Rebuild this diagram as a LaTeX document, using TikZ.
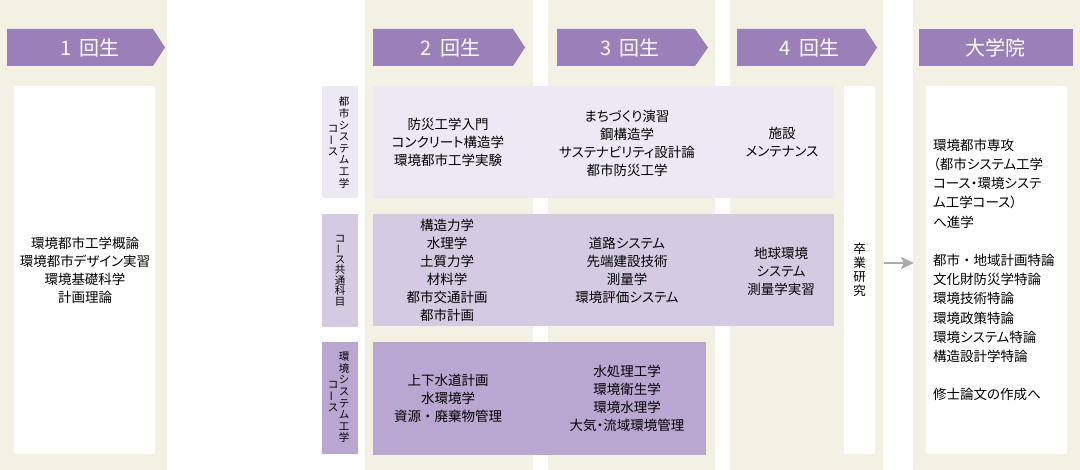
\documentclass[tikz,border=0pt]{standalone}
\usepackage{fontspec}
\setmainfont{Noto Sans CJK JP}[RawFeature=+palt]
\newfontfamily\vfont{Noto Sans CJK JP}
\usepackage{graphicx}
\usetikzlibrary{arrows.meta}
\definecolor{beige}{HTML}{F3F1E3}
\definecolor{hdrcol}{HTML}{9B7FB8}
\definecolor{bandA}{HTML}{ECE8F4}
\definecolor{bandB}{HTML}{D4CBE3}
\definecolor{bandC}{HTML}{B9A7D1}
\definecolor{arrowgray}{HTML}{ABABAB}
\newcommand{\vbarmark}{\raisebox{0.12em}{\smash{\rotatebox[origin=c]{90}{ー}}}}
\newcommand{\wdot}{{\vfont ・}}
\tikzset{
  colbg/.style={fill=beige, draw=none, inner sep=0, outer sep=0, anchor=north west},
  whitebox/.style={fill=white, draw=none, inner sep=0, outer sep=0, anchor=north west},
  bandbox/.style={draw=none, inner sep=0, outer sep=0, anchor=north west},
  hdrshape/.style={fill=hdrcol, draw=none},
  hdrtxt/.style={text=white, font=\fontsize{20}{24}\selectfont, inner sep=0},
  body/.style={font=\fontsize{13.5}{18}\selectfont, align=center, inner sep=0},
  gradtxt/.style={font=\fontsize{13.5}{19.2}\selectfont, align=left, inner sep=0, anchor=west},
  vlab/.style={font={\vfont\fontsize{10.5}{11.6}\selectfont}, align=center, inner sep=0, anchor=north},
  vlabB/.style={font={\vfont\fontsize{10.5}{10.5}\selectfont}, align=center, inner sep=0},
  vsotsu/.style={font={\vfont\fontsize{12.5}{14}\selectfont}, align=center, inner sep=0},
  arr/.style={draw=arrowgray, line width=1.2pt, -{Stealth[length=13pt,width=12pt,inset=3pt]}}
}
\begin{document}
\begin{tikzpicture}[x=1pt,y=-1pt]
\useasboundingbox (0,0) rectangle (1080,470);
% column backgrounds
\node[colbg, minimum width=167pt, minimum height=470pt] (c1) at (0,0) {};
\node[colbg, minimum width=168pt, minimum height=470pt] (c2) at (365,0) {};
\node[colbg, minimum width=167pt, minimum height=470pt] (c3) at (548,0) {};
\node[colbg, minimum width=153pt, minimum height=470pt] (c4) at (730,0) {};
\node[colbg, minimum width=167pt, minimum height=470pt] (c5) at (913,0) {};
% headers
\fill[hdrshape] (7,29) -- (153,29) -- (165,47.5) -- (153,66) -- (7,66) -- cycle;
\fill[hdrshape] (373,29) -- (513,29) -- (525,47.5) -- (513,66) -- (373,66) -- cycle;
\fill[hdrshape] (557,29) -- (695,29) -- (708,47.5) -- (695,66) -- (557,66) -- cycle;
\fill[hdrshape] (737,29) -- (865,29) -- (877,47.5) -- (865,66) -- (737,66) -- cycle;
\fill[hdrshape] (919,29) rectangle (1073,66);
\node[hdrtxt] (h1) at (90,47.5) {1\hspace{0.4em}回生};
\node[hdrtxt] (h2) at (450.5,47.5) {2\hspace{0.4em}回生};
\node[hdrtxt] (h3) at (630,47.5) {3\hspace{0.4em}回生};
\node[hdrtxt] (h4) at (809.5,47.5) {4\hspace{0.4em}回生};
\node[hdrtxt] (h5) at (995,47.5) {大学院};
% white boxes
\node[whitebox, minimum width=141pt, minimum height=368pt] (y1) at (14,86) {};
\node[whitebox, minimum width=31pt, minimum height=368pt] (sotsu) at (844,86) {};
\node[whitebox, minimum width=141pt, minimum height=368pt] (grad) at (926,86) {};
% bands and labels
\node[bandbox, fill=bandA, minimum width=461pt, minimum height=112pt] (b1) at (373,86) {};
\node[bandbox, fill=bandB, minimum width=461pt, minimum height=112pt] (b2) at (373,214) {};
\node[bandbox, fill=bandC, minimum width=333pt, minimum height=113pt] (b3) at (373,342) {};
\node[bandbox, fill=bandA, minimum width=36pt, minimum height=112pt] (l1) at (322,86) {};
\node[bandbox, fill=bandB, minimum width=36pt, minimum height=113pt] (l2) at (322,214) {};
\node[bandbox, fill=bandC, minimum width=36pt, minimum height=112pt] (l3) at (322,342) {};
% vertical labels
\node[vlab] (l1a) at (344,97) {都\\市\\シ\\ス\\テ\\ム\\工\\学};
\node[vlab] (l1b) at (333,125) {コ\\\vbarmark\\ス};
\node[vlabB] (l2a) at (340,270.5) {コ\\\vbarmark\\ス\\共\\通\\科\\目};
\node[vlab] (l3a) at (344,352) {環\\境\\シ\\ス\\テ\\ム\\工\\学};
\node[vlab] (l3b) at (333,381) {コ\\\vbarmark\\ス};
\node[vsotsu] (sotsutxt) at (859.5,270) {卒\\業\\研\\究};
% texts
\node[body] (t1) at (85,270) {環境都市工学概論\\環境都市デザイン実習\\環境基礎科学\\計画理論};
\node[body] (t21) at (448,142) {防災工学入門\\コンクリート構造学\\環境都市工学実験};
\node[body] (t31) at (627,143) {まちづくり演習\\鋼構造学\\サステナビリティ設計論\\都市防災工学};
\node[body] (t41) at (782,142.5) {施設\\メンテナンス};
\node[body] (t22) at (447,270.5) {構造力学\\水理学\\土質力学\\材料学\\都市交通計画\\都市計画};
\node[body] (t32) at (627,270) {道路システム\\先端建設技術\\測量学\\環境評価システム};
\node[body] (t42) at (781,271) {地球環境\\システム\\測量学実習};
\node[body] (t23) at (448,398.5) {上下水道計画\\水環境学\\資源\wdot 廃棄物管理};
\node[body] (t33) at (627,398.5) {水処理工学\\環境衛生学\\環境水理学\\大気・流域環境管理};
\node[gradtxt] (tg) at (933,270) {環境都市専攻\\（都市システム工学\\コース・環境システ\\ム工学コース）\\へ進学\\[19.2pt]都市\wdot 地域計画特論\\文化財防災学特論\\環境技術特論\\環境政策特論\\環境システム特論\\構造設計学特論\\[19.2pt]修士論文の作成へ};
% arrow
\coordinate (ay) at (0,263);
\draw[arr, shorten <=9pt, shorten >=12pt] (sotsu.east |- ay) -- (grad.west |- ay);
\end{tikzpicture}
\end{document}
